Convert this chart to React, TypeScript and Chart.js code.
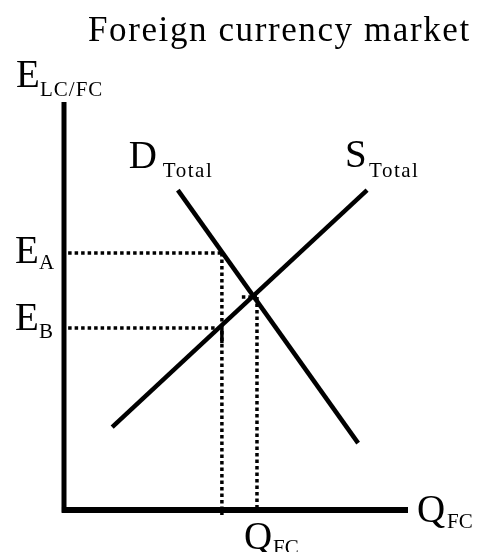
import React, { useEffect, useRef } from 'react';
import { Chart, registerables } from 'chart.js';

Chart.register(...registerables);

// ---- data (value space 0..10 on both axes) ----
const AXIS_MAX = 10;
const yAxisLineX = [0, 0];
const yAxisLineY = [-0.07, 10];
const xAxisLineX = [-0.06, 10];
const xAxisLineY = [0, 0];

const demandX = [3.31, 8.55];
const demandY = [7.84, 1.64];
const supplyX = [1.4, 8.81];
const supplyY = [2.03, 7.84];

const priceLabels = ['A', 'B'];
const priceValues = [6.3, 4.46];
const priceLineEndX = [4.59, 4.39];
const dottedStartX = 0.12;

const quantityValues = [4.59, 5.61];
const quantityTopY = [6.3, 5.22];
const quantityBottomY = [-0.12, 0];
const solidSegmentY = [4.46, 4.09];

const equilibriumStubX = [5.17, 5.61];
const equilibriumY = 5.22;

const curveNames = ['D', 'S'];
const curveSub = 'Total';
const titleText = 'Foreign currency market';
const yAxisName = ['E', 'LC/FC'];
const xAxisName = ['Q', 'FC'];

const pts = (xs: number[], ys: number[]) => xs.map((x, i) => ({ x, y: ys[i] }));

const SERIF = '"Liberation Serif", "Times New Roman", serif';

const textPlugin = {
  id: 'econText',
  afterDraw(chart: any) {
    const { ctx, chartArea, scales } = chart;
    const xs = scales.x;
    const ys = scales.y;
    ctx.save();
    ctx.fillStyle = '#000';
    ctx.textBaseline = 'alphabetic';
    ctx.textAlign = 'left';
    const draw = (t: string, x: number, y: number, size: number, spacing = 0) => {
      ctx.font = `${size}px ${SERIF}`;
      (ctx as any).letterSpacing = `${spacing}px`;
      ctx.fillText(t, x, y);
    };
    const MAIN = 39;
    const SUB = 21;
    // title
    draw(titleText, chartArea.left + 24, 41, 35, 1.6);
    // y axis name
    draw(yAxisName[0], chartArea.left - 48, chartArea.top - 15, MAIN);
    draw(yAxisName[1], chartArea.left - 24, chartArea.top - 6, SUB, 1);
    // price labels
    const eOffsets = [10, 2];
    const subOffsets = [16, 10];
    priceValues.forEach((v, i) => {
      const py = ys.getPixelForValue(v);
      draw('E', chartArea.left - 49, py + eOffsets[i], MAIN);
      draw(priceLabels[i], chartArea.left - 25, py + subOffsets[i], SUB);
    });
    // curve labels
    const dStart = { x: xs.getPixelForValue(demandX[0]), y: ys.getPixelForValue(demandY[0]) };
    draw(curveNames[0], dStart.x - 49, dStart.y - 22, MAIN);
    draw(curveSub, dStart.x - 15, dStart.y - 13, SUB, 1.5);
    const sEnd = { x: xs.getPixelForValue(supplyX[1]), y: ys.getPixelForValue(supplyY[1]) };
    draw(curveNames[1], sEnd.x - 22, sEnd.y - 23, MAIN);
    draw(curveSub, sEnd.x + 2, sEnd.y - 13, SUB, 1.5);
    // x axis names
    const axisY = ys.getPixelForValue(0);
    draw(xAxisName[0], chartArea.right + 9, axisY + 12, MAIN);
    draw(xAxisName[1], chartArea.right + 39, axisY + 18, SUB);
    const qx = xs.getPixelForValue(quantityValues[1]);
    draw(xAxisName[0], qx - 13, axisY + 39, MAIN);
    draw(xAxisName[1], qx + 16, axisY + 44, SUB);
    ctx.restore();
  },
};

export default function App() {
  const ref = useRef<HTMLCanvasElement | null>(null);
  useEffect(() => {
    if (!ref.current) return;
    const solid = (data: any[], width: number) => ({
      data,
      showLine: true,
      borderColor: '#000',
      borderWidth: width,
      pointRadius: 0,
      fill: false,
      clip: false as any,
      borderCapStyle: 'butt' as const,
    });
    const dotted = (data: any[]) => ({
      ...solid(data, 3.5),
      borderDash: [3.5, 3],
    });
    const datasets: any[] = [
      solid(pts(yAxisLineX, yAxisLineY), 5),
      solid(pts(xAxisLineX, xAxisLineY), 6),
      // dotted guide lines
      ...priceValues.map((v, i) => dotted(pts([dottedStartX, priceLineEndX[i]], [v, v]))),
      ...quantityValues.map((q, i) => dotted(pts([q, q], [quantityTopY[i], quantityBottomY[i]]))),
      dotted(pts(equilibriumStubX, [equilibriumY, equilibriumY])),
      solid(pts([quantityValues[0], quantityValues[0]], solidSegmentY), 3.5),
      // curves
      solid(pts(demandX, demandY), 4.5),
      solid(pts(supplyX, supplyY), 4.5),
    ];
    const chart = new Chart(ref.current, {
      type: 'scatter',
      data: { datasets },
      options: {
        animation: false,
        responsive: true,
        maintainAspectRatio: false,
        layout: { padding: { left: 64, right: 70, top: 102, bottom: 42 } },
        scales: {
          x: { type: 'linear', min: 0, max: AXIS_MAX, display: false },
          y: { type: 'linear', min: 0, max: AXIS_MAX, display: false },
        },
        plugins: { legend: { display: false }, tooltip: { enabled: false }, title: { display: false } },
        events: [],
      },
      plugins: [textPlugin],
    });
    return () => chart.destroy();
  }, []);
  return (
    <div style={{ position: 'absolute', left: 0, top: 0, width: 478, height: 552, background: '#fff' }}>
      <canvas ref={ref} />
    </div>
  );
}
